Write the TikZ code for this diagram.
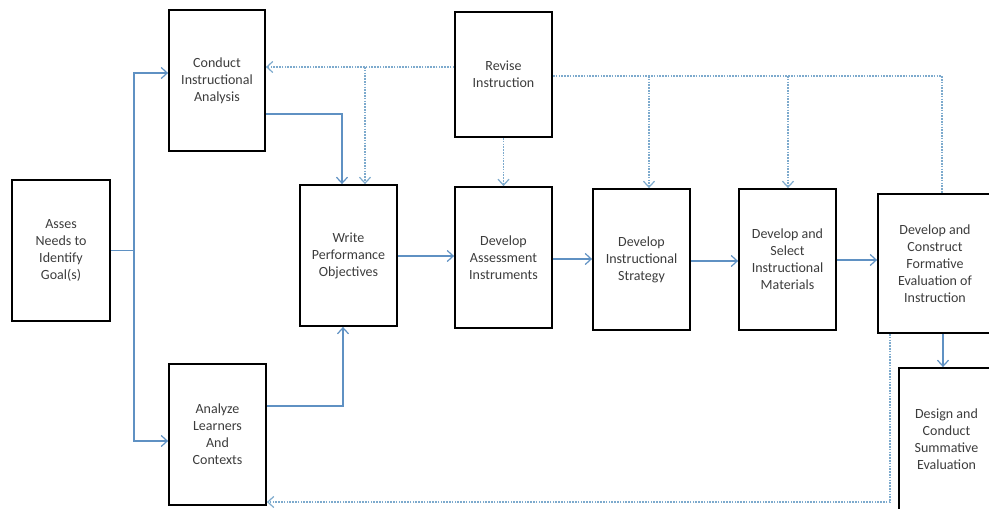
\documentclass[tikz,border=0pt]{standalone}
\usepackage{fontspec}
\setmainfont{Carlito}
\usetikzlibrary{arrows.meta,calc}
\definecolor{flowblue}{RGB}{95,145,195}
\definecolor{dotblue}{RGB}{125,170,205}
\definecolor{txtgray}{RGB}{60,60,60}
\begin{document}
\begin{tikzpicture}[x=1pt,y=-1pt,
  box/.style={draw=black,line width=1.8pt,rectangle,align=center,
    font=\fontsize{14}{17}\selectfont,text=txtgray,inner sep=0pt},
  flow/.style={draw=flowblue,line width=1.2pt},
  dotl/.style={draw=dotblue,line width=1.2pt,dash pattern=on 1.6pt off 1.2pt},
  tip/.style={-{Straight Barb[length=6pt,width=11pt,line width=1.2pt]}}]
\useasboundingbox (0,0) rectangle (989,509);
\clip (0,0) rectangle (989,509);

\node[box,minimum width=98pt,minimum height=141pt] (asses) at (61,250.5) {Asses\\Needs to\\Identify\\Goal(s)};
\node[box,minimum width=96pt,minimum height=141pt] (conduct) at (217,80.5) {Conduct\\Instructional\\Analysis};
\node[box,minimum width=97pt,minimum height=125pt] (revise) at (503.5,74.5) {Revise\\Instruction};
\node[box,minimum width=97pt,minimum height=141pt] (write) at (348.5,255.5) {Write\\Performance\\Objectives};
\node[box,minimum width=97pt,minimum height=141pt] (assess) at (503.5,257.5) {Develop\\Assessment\\Instruments};
\node[box,minimum width=97pt,minimum height=141pt] (strategy) at (641.5,259.5) {Develop\\Instructional\\Strategy};
\node[box,minimum width=97pt,minimum height=141pt] (materials) at (787.5,259.5) {Develop and\\Select\\Instructional\\Materials};
\node[box,minimum width=114pt,minimum height=139pt] (formative) at (935,263.5) {Develop and\\Construct\\Formative\\Evaluation of\\Instruction};
\node[box,minimum width=95pt,minimum height=142pt] (summative) at (946.5,439) {Design and\\Conduct\\Summative\\Evaluation};
\node[box,minimum width=97pt,minimum height=141pt] (analyze) at (217.5,434.5) {Analyze\\Learners\\And\\Contexts};

% solid flow
\coordinate (split) at (134,250.5);
\draw[flow] (asses.east) -- (split);
\draw[flow,tip] (split) |- ([yshift=7.5pt]conduct.west);
\draw[flow,tip] (split) |- ([yshift=-6.5pt]analyze.west);
\draw[flow,tip] ([yshift=-33.5pt]conduct.east) -| ([xshift=-6.5pt]write.north);
\draw[flow,tip] ([yshift=28.5pt]analyze.east) -| ([xshift=-5.5pt]write.south);
\draw[flow,tip] ([yshift=-0.5pt]write.east) -- ([yshift=-0.5pt]write.east -| assess.west);
\draw[flow,tip] ([yshift=-1.5pt]assess.east) -- ([yshift=-1.5pt]assess.east -| strategy.west);
\draw[flow,tip] ([yshift=-1.5pt]strategy.east) -- ([yshift=-1.5pt]strategy.east -| materials.west);
\draw[flow,tip] ([yshift=-0.5pt]materials.east) -- ([yshift=-0.5pt]materials.east -| formative.west);
\draw[flow,tip] ([xshift=8pt]formative.south) -- ([xshift=8pt]formative.south |- summative.north);

% dotted revision paths
\coordinate (rl) at ([yshift=7.5pt]revise.west);
\draw[dotl,tip] (rl) -- (rl -| conduct.east);
\coordinate (b1) at (365,0);
\draw[dotl,tip] (b1 |- rl) -- (b1 |- write.north);
\draw[dotl,tip] (revise.south) -- (assess.north);
\coordinate (rr) at ([yshift=-1.5pt]revise.east);
\draw[dotl] (rr) -| ([xshift=7pt]formative.north);
\draw[dotl,tip] ([xshift=7.5pt]strategy.north |- rr) -- ([xshift=7.5pt]strategy.north);
\draw[dotl,tip] ([xshift=0.5pt]materials.north |- rr) -- ([xshift=0.5pt]materials.north);
\draw[dotl,tip] ([xshift=-45pt]formative.south) |- ([yshift=-67.5pt]analyze.east);
\end{tikzpicture}
\end{document}
